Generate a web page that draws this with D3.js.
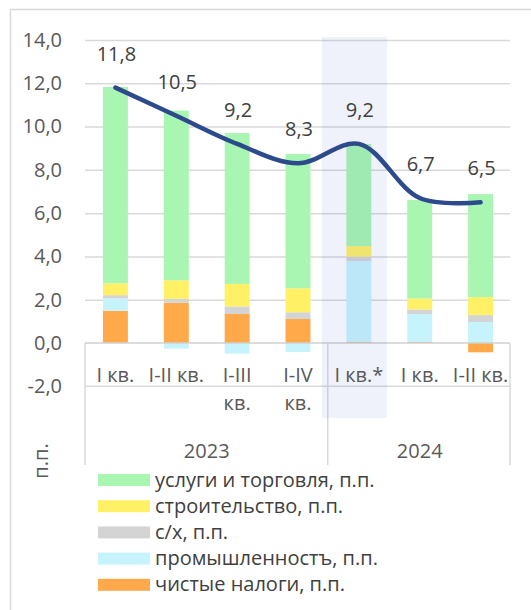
<!DOCTYPE html>
<html>
<head>
<meta charset="utf-8">
<script src="https://cdn.jsdelivr.net/npm/d3@7"></script>
<style>
  body { margin: 0; background: #fff; }
  svg { display: block; font-family: "Open Sans", sans-serif; }
</style>
</head>
<body>
<svg id="chart"></svg>
<script>
// categories (two-level axis)
var quarters = [["I кв."], ["I-II кв."], ["I-III", "кв."], ["I-IV", "кв."], ["I кв.*"], ["I кв."], ["I-II кв."]];
var years = [{ name: "2023", from: 0, to: 3 }, { name: "2024", from: 4, to: 6 }];

// contributions, п.п.
var netTaxes     = [1.49, 1.86, 1.34, 1.11, 0.06, 0.05, -0.43];
var industry     = [0.57, -0.26, -0.49, -0.42, 3.73, 1.29, 0.97];
var agriculture  = [0.15, 0.18, 0.35, 0.31, 0.20, 0.21, 0.32];
var construction = [0.55, 0.86, 1.04, 1.11, 0.49, 0.51, 0.83];
var services     = [9.07, 7.84, 6.97, 6.20, 4.72, 4.55, 4.76];
var totalGrowth  = [11.8, 10.5, 9.2, 8.3, 9.2, 6.7, 6.5];

var yTicks = [-2, 0, 2, 4, 6, 8, 10, 12, 14];

var seriesKeys = ["taxes", "industry", "agri", "constr", "services"];
var seriesNames = {
    services: "услуги и торговля, п.п.",
    constr: "строительство, п.п.",
    agri: "с/х, п.п.",
    industry: "промышленностъ, п.п.",
    taxes: "чистые налоги, п.п."
};
var seriesColors = {
    services: "#A9F6B2",
    constr: "#FFF066",
    agri: "#D4D4D4",
    industry: "#C7F3FD",
    taxes: "#FFA94A"
};
var legendOrder = ["services", "constr", "agri", "industry", "taxes"];

var width = 531, height = 610;
var margin = { left: 85, right: 21, top: 40, bottom: 224 };
var fontSize = 20;

var svg = d3.select("#chart")
    .attr("width", width)
    .attr("height", height);

svg.append("rect").attr("width", width).attr("height", height).attr("fill", "#fff");

// outer chart border (only top/left visible)
svg.append("path")
    .attr("d", "M10.5," + height + "V9.5H" + width)
    .attr("fill", "none")
    .attr("stroke", "#D9D9D9")
    .attr("stroke-width", 1.5);

var rows = quarters.map(function(q, i) {
    return {
        idx: i,
        taxes: netTaxes[i],
        industry: industry[i],
        agri: agriculture[i],
        constr: construction[i],
        services: services[i]
    };
});

var x = d3.scaleBand()
    .domain(d3.range(quarters.length))
    .range([margin.left, width - margin.right + 1])
    .paddingInner(0.59)
    .paddingOuter(0.295);

var y = d3.scaleLinear()
    .domain([-2, 14])
    .range([386.3, margin.top]);

var fmt = function(v) { return v.toFixed(1).replace(".", ","); };

// gridlines
svg.append("g")
    .attr("class", "grid")
    .attr("transform", "translate(" + margin.left + ",0)")
    .call(d3.axisLeft(y)
        .tickValues(yTicks.filter(function(v) { return v > 0; }))
        .tickSize(-(x.range()[1] - margin.left - 1))
        .tickFormat(""))
    .call(function(g) { g.select(".domain").remove(); })
    .selectAll("line")
    .attr("stroke", "#D9D9D9")
    .attr("stroke-width", 1.5);

// y labels
svg.append("g")
    .attr("transform", "translate(" + margin.left + ",0)")
    .call(d3.axisLeft(y).tickValues(yTicks).tickSize(0).tickPadding(23).tickFormat(fmt))
    .call(function(g) { g.select(".domain").remove(); })
    .selectAll("text")
    .attr("font-family", "Open Sans, sans-serif")
    .attr("font-size", fontSize)
    .attr("fill", "#595959");

// stacked bars
var stack = d3.stack().keys(seriesKeys).offset(d3.stackOffsetDiverging);
var stacked = stack(rows);

svg.append("g")
    .selectAll("g")
    .data(stacked)
    .enter().append("g")
    .attr("fill", function(d) { return seriesColors[d.key]; })
    .selectAll("rect")
    .data(function(d) { return d; })
    .enter().append("rect")
    .attr("x", function(d) { return x(d.data.idx); })
    .attr("width", x.bandwidth())
    .attr("y", function(d) { return y(Math.max(d[0], d[1])); })
    .attr("height", function(d) { return Math.abs(y(d[0]) - y(d[1])); });

// x axis (two levels)
var x0 = x.range()[0], x1 = x.range()[1] - 1;
var ax = svg.append("g").attr("stroke", "#D9D9D9").attr("stroke-width", 1.5);
ax.append("line").attr("x1", x0).attr("x2", x1).attr("y1", y(0)).attr("y2", y(0)).attr("stroke", "#D0D0D0");
ax.append("line").attr("x1", x0).attr("x2", x1).attr("y1", y(-2)).attr("y2", y(-2));
var sepX = [x0, x0 + x.step() * 4 - 0.7, x1];
sepX.forEach(function(sx) {
    ax.append("line").attr("x1", sx).attr("x2", sx).attr("y1", y(0)).attr("y2", 465);
});

// highlight band over the I кв.* column
var bc = x(4) + x.bandwidth() / 2;
svg.append("rect")
    .attr("x", bc - 37)
    .attr("width", 65)
    .attr("y", 37)
    .attr("height", 381)
    .attr("fill", "#2F55BE")
    .attr("fill-opacity", 0.08);

var xAxis = svg.append("g")
    .attr("transform", "translate(0," + y(0) + ")")
    .call(d3.axisBottom(x).tickSize(0).tickFormat(""))
    .call(function(g) { g.select(".domain").remove(); });

xAxis.selectAll(".tick text").each(function(i) {
    var t = d3.select(this)
        .attr("y", 0)
        .attr("dy", null)
        .attr("font-family", "Open Sans, sans-serif")
        .attr("font-size", fontSize)
        .attr("fill", "#595959");
    quarters[i].forEach(function(line, k) {
        t.append("tspan").attr("x", 0).attr("y", 39 + k * 28).text(line);
    });
});

svg.append("g")
    .selectAll("text")
    .data(years)
    .enter().append("text")
    .attr("x", function(d) { return (x0 + x.step() * d.from + x0 + x.step() * (d.to + 1)) / 2; })
    .attr("y", 458)
    .attr("text-anchor", "middle")
    .attr("font-size", fontSize)
    .attr("fill", "#595959")
    .text(function(d) { return d.name; });

// total growth line
var line = d3.line()
    .x(function(d, i) { return x(i) + x.bandwidth() / 2; })
    .y(function(d) { return y(d); })
    .curve(d3.curveCatmullRom);

svg.append("path")
    .datum(totalGrowth)
    .attr("d", line)
    .attr("fill", "none")
    .attr("stroke", "#2C4A8C")
    .attr("stroke-width", 4.5)
    .attr("stroke-linecap", "round");

svg.append("g")
    .selectAll("text")
    .data(totalGrowth)
    .enter().append("text")
    .attr("x", function(d, i) { return x(i) + x.bandwidth() / 2 + 1; })
    .attr("y", function(d) { return y(d) - 27; })
    .attr("text-anchor", "middle")
    .attr("font-size", fontSize)
    .attr("fill", "#404040")
    .text(fmt);

// y title
svg.append("text")
    .attr("transform", "translate(48,461) rotate(-90)")
    .attr("text-anchor", "middle")
    .attr("font-size", fontSize)
    .attr("fill", "#595959")
    .text("п.п.");

// legend
var legend = svg.append("g")
    .selectAll("g")
    .data(legendOrder)
    .enter().append("g")
    .attr("transform", function(d, i) { return "translate(98," + (480 + i * 26.2) + ")"; });

legend.append("rect")
    .attr("x", 0)
    .attr("y", -6)
    .attr("width", 52)
    .attr("height", 12)
    .attr("fill", function(d) { return seriesColors[d]; });

legend.append("text")
    .attr("x", 57)
    .attr("y", 6.5)
    .attr("font-size", fontSize)
    .attr("fill", "#404040")
    .text(function(d) { return seriesNames[d]; });
</script>
</body>
</html>
